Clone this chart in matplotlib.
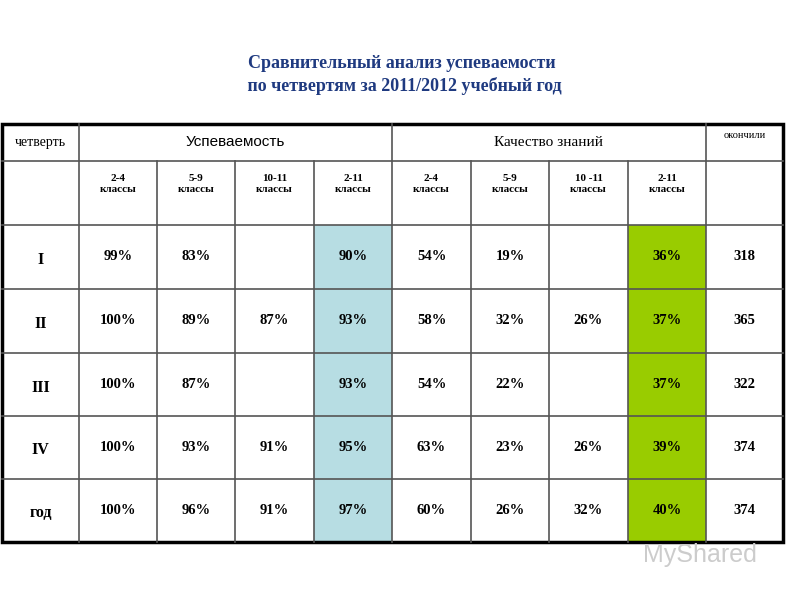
import matplotlib
matplotlib.use("Agg")
import matplotlib.pyplot as plt
from matplotlib.patches import Rectangle

title = "Сравнительный анализ успеваемости\n по четвертям за 2011/2012 учебный год"
quarters = ["I", "II", "III", "IV", "год"]
subheads = ["2-4\nклассы", "5-9\nклассы", "10-11\nклассы", "2-11\nклассы",
            "2-4\nклассы", "5-9\nклассы", "10 -11\nклассы", "2-11\nклассы", ""]
usp_24 = ["99%", "100%", "100%", "100%", "100%"]
usp_59 = ["83%", "89%", "87%", "93%", "96%"]
usp_1011 = ["", "87%", "", "91%", "91%"]
usp_211 = ["90%", "93%", "93%", "95%", "97%"]
kach_24 = ["54%", "58%", "54%", "63%", "60%"]
kach_59 = ["19%", "32%", "22%", "23%", "26%"]
kach_1011 = ["", "26%", "", "26%", "32%"]
kach_211 = ["36%", "37%", "37%", "39%", "40%"]
graduated = ["318", "365", "322", "374", "374"]

cols = [usp_24, usp_59, usp_1011, usp_211, kach_24, kach_59, kach_1011, kach_211, graduated]

xs = [2, 79, 157, 235, 314, 392, 471, 549, 628, 706, 783]
ys = [124, 161, 225, 289, 353, 416, 479, 542]

fig = plt.figure(figsize=(8, 6), dpi=100)
ax = fig.add_axes([0, 0, 1, 1])
ax.set_xlim(0, 800); ax.set_ylim(600, 0); ax.axis("off")

serif = "Liberation Serif"; sans = "Liberation Sans"
ax.text(402, 75, title, ha="center", va="center", fontsize=13, fontweight="bold",
        color="#1f3a80", family=serif, linespacing=1.3)

for r in range(5):
    y0, y1 = ys[r + 2], ys[r + 3]
    ax.add_patch(Rectangle((xs[4], y0), xs[5] - xs[4], y1 - y0, color="#b7dde3", lw=0))
    ax.add_patch(Rectangle((xs[8], y0), xs[9] - xs[8], y1 - y0, color="#99cc00", lw=0))

lc = "#555555"
for y in ys[1:-1]:
    ax.plot([xs[0], xs[-1]], [y, y], color=lc, lw=1.2)
for i, x in enumerate(xs[1:-1], start=1):
    if i in (1, 5, 9):
        ax.plot([x, x], [ys[0], ys[-1]], color=lc, lw=1.2)
    else:
        ax.plot([x, x], [ys[1], ys[-1]], color=lc, lw=1.2)
ax.add_patch(Rectangle((xs[0], ys[0]), xs[-1] - xs[0], ys[-1] - ys[0], fill=False,
                       ec="black", lw=2.5))

ax.text((xs[0] + xs[1]) / 2, (ys[0] + ys[1]) / 2, "четверть", ha="center", va="center",
        fontsize=10, family=serif)
ax.text((xs[1] + xs[5]) / 2, (ys[0] + ys[1]) / 2, "Успеваемость", ha="center", va="center",
        fontsize=11, family=sans)
ax.text((xs[5] + xs[9]) / 2, (ys[0] + ys[1]) / 2, "Качество знаний", ha="center", va="center",
        fontsize=11, family=serif)
ax.text((xs[9] + xs[10]) / 2, ys[0] + 12, "окончили", ha="center", va="center",
        fontsize=7.5, family=serif)
for j, s in enumerate(subheads):
    ax.text((xs[j + 1] + xs[j + 2]) / 2, ys[1] + 23, s, ha="center", va="center",
            fontsize=8, fontweight="bold", family=serif, linespacing=1.4)

for r, q in enumerate(quarters):
    yc = (ys[r + 2] + ys[r + 3]) / 2
    ax.text((xs[0] + xs[1]) / 2, yc + 3, q, ha="center", va="center", fontsize=11.5,
            fontweight="bold", family=serif)
    for j, col in enumerate(cols):
        ax.text((xs[j + 1] + xs[j + 2]) / 2, yc, col[r], ha="center", va="center",
                fontsize=10.5, fontweight="bold", family=serif)

ax.text(700, 555, "MyShared", ha="center", va="center", fontsize=18, color="#cccccc",
        family=sans)

fig.savefig("out.png", dpi=100)
